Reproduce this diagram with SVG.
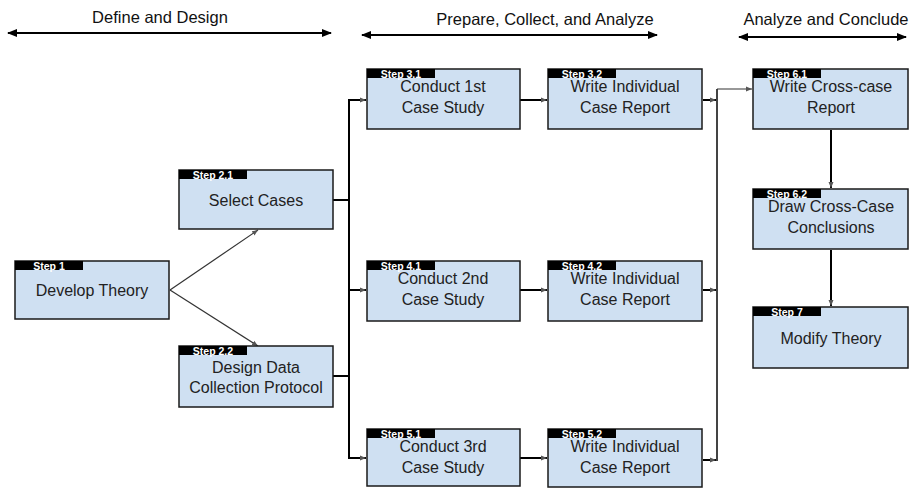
<svg xmlns="http://www.w3.org/2000/svg" width="911" height="489" viewBox="0 0 911 489">
  <style>
    .box { fill: #cfe0f2; stroke: #1a1a1a; stroke-width: 1.5; }
    .tab { fill: #000; }
    .tabtxt { font-family: "Liberation Sans", Arial, sans-serif; font-size: 10.5px; font-weight: bold; fill: #fff; text-anchor: middle; }
    .lbl { font-family: "Liberation Sans", Arial, sans-serif; font-size: 16px; fill: #222; text-anchor: middle; }
    .head { font-family: "Liberation Sans", Arial, sans-serif; font-size: 16.5px; fill: #111; text-anchor: middle; }
    .phase { stroke: #000; stroke-width: 2; fill: none; marker-start: url(#big); marker-end: url(#big); }
    .wire { stroke: #000; stroke-width: 2; fill: none; }
    .thin { stroke: #333; stroke-width: 1.2; fill: none; }
    .arr { marker-end: url(#small); }
  </style>
  <defs>
    <marker id="big" viewBox="0 0 10 8" refX="9" refY="4" markerWidth="10" markerHeight="8" markerUnits="userSpaceOnUse" orient="auto-start-reverse">
      <path d="M0,0 L10,4 L0,8 Z" fill="#000"/>
    </marker>
    <marker id="small" viewBox="0 0 6 6" refX="6" refY="3" markerWidth="6" markerHeight="6" markerUnits="userSpaceOnUse" orient="auto">
      <path d="M0,0.5 L6,3 L0,5.5 Z" fill="#555"/>
    </marker>
  </defs>

  <!-- phase headings -->
  <g id="phases">
    <text class="head" x="160" y="23">Define and Design</text>
    <line class="phase" x1="8" y1="33" x2="331" y2="33"/>
    <text class="head" x="545" y="25">Prepare, Collect, and Analyze</text>
    <line class="phase" x1="362" y1="35" x2="657" y2="35"/>
    <text class="head" x="826" y="25">Analyze and Conclude</text>
    <line class="phase" x1="739" y1="37" x2="906" y2="37"/>
  </g>

  <!-- connectors -->
  <g id="connectors">
    <line class="thin arr" x1="170" y1="290" x2="258" y2="230"/>
    <line class="thin arr" x1="170" y1="290" x2="258" y2="346"/>
    <!-- left bus -->
    <polyline class="wire" points="333,200 349,200"/>
    <polyline class="wire" points="333,376 349,376"/>
    <line class="wire" x1="349" y1="100" x2="349" y2="459"/>
    <line class="wire arr" x1="348" y1="100" x2="366" y2="100"/>
    <line class="wire arr" x1="349" y1="290" x2="366" y2="290"/>
    <line class="wire arr" x1="348" y1="458" x2="366" y2="458"/>
    <!-- row links -->
    <line class="wire arr" x1="520" y1="100" x2="547" y2="100"/>
    <line class="wire arr" x1="520" y1="290" x2="547" y2="290"/>
    <line class="wire arr" x1="520" y1="458" x2="547" y2="458"/>
    <!-- right bus -->
    <line class="wire arr" x1="703" y1="100" x2="716" y2="100"/>
    <line class="wire arr" x1="703" y1="290" x2="716" y2="290"/>
    <line class="wire arr" x1="703" y1="460" x2="716" y2="460"/>
    <line x1="717" y1="89" x2="717" y2="461" stroke="#444" stroke-width="2"/>
    <line class="thin arr" x1="717" y1="89" x2="752" y2="89"/>
    <line class="wire arr" x1="831" y1="130" x2="831" y2="188"/>
    <line class="wire arr" x1="831" y1="250" x2="831" y2="306"/>
  </g>

  <g id="step1">
    <rect class="box" x="15" y="261" width="154" height="58"/>
    <rect class="tab" x="15" y="261" width="68" height="9"/>
    <text class="tabtxt" x="49" y="269.5">Step 1</text>
    <text class="lbl" x="92" y="296">Develop Theory</text>
  </g>

  <g id="step2-1">
    <rect class="box" x="179" y="170" width="154" height="59"/>
    <rect class="tab" x="179" y="170" width="68" height="9"/>
    <text class="tabtxt" x="213" y="178.5">Step 2.1</text>
    <text class="lbl" x="256" y="206">Select Cases</text>
  </g>

  <g id="step2-2">
    <rect class="box" x="179" y="346" width="154" height="61"/>
    <rect class="tab" x="179" y="346" width="68" height="9"/>
    <text class="tabtxt" x="213" y="354.5">Step 2.2</text>
    <text class="lbl" x="256" y="373">Design Data</text>
    <text class="lbl" x="256" y="393">Collection Protocol</text>
  </g>

  <g id="step3-1">
    <rect class="box" x="367" y="69" width="153" height="60"/>
    <rect class="tab" x="367" y="69" width="68" height="9"/>
    <text class="tabtxt" x="401" y="77.5">Step 3.1</text>
    <text class="lbl" x="443" y="92">Conduct 1st</text>
    <text class="lbl" x="443" y="113">Case Study</text>
  </g>

  <g id="step3-2">
    <rect class="box" x="548" y="69" width="154" height="60"/>
    <rect class="tab" x="548" y="69" width="68" height="9"/>
    <text class="tabtxt" x="582" y="77.5">Step 3.2</text>
    <text class="lbl" x="625" y="92">Write Individual</text>
    <text class="lbl" x="625" y="113">Case Report</text>
  </g>

  <g id="step4-1">
    <rect class="box" x="367" y="261" width="153" height="60"/>
    <rect class="tab" x="367" y="261" width="68" height="9"/>
    <text class="tabtxt" x="401" y="269.5">Step 4.1</text>
    <text class="lbl" x="443" y="284">Conduct 2nd</text>
    <text class="lbl" x="443" y="305">Case Study</text>
  </g>

  <g id="step4-2">
    <rect class="box" x="548" y="261" width="154" height="60"/>
    <rect class="tab" x="548" y="261" width="68" height="9"/>
    <text class="tabtxt" x="582" y="269.5">Step 4.2</text>
    <text class="lbl" x="625" y="284">Write Individual</text>
    <text class="lbl" x="625" y="305">Case Report</text>
  </g>

  <g id="step5-1">
    <rect class="box" x="367" y="429" width="153" height="57"/>
    <rect class="tab" x="367" y="429" width="68" height="9"/>
    <text class="tabtxt" x="401" y="437.5">Step 5.1</text>
    <text class="lbl" x="443" y="452">Conduct 3rd</text>
    <text class="lbl" x="443" y="473">Case Study</text>
  </g>

  <g id="step5-2">
    <rect class="box" x="548" y="429" width="154" height="58"/>
    <rect class="tab" x="548" y="429" width="68" height="9"/>
    <text class="tabtxt" x="582" y="437.5">Step 5.2</text>
    <text class="lbl" x="625" y="452">Write Individual</text>
    <text class="lbl" x="625" y="473">Case Report</text>
  </g>

  <g id="step6-1">
    <rect class="box" x="753" y="69" width="155" height="60"/>
    <rect class="tab" x="753" y="69" width="68" height="9"/>
    <text class="tabtxt" x="787" y="77.5">Step 6.1</text>
    <text class="lbl" x="831" y="92">Write Cross-case</text>
    <text class="lbl" x="831" y="113">Report</text>
  </g>

  <g id="step6-2">
    <rect class="box" x="753" y="189" width="155" height="60"/>
    <rect class="tab" x="753" y="189" width="68" height="9"/>
    <text class="tabtxt" x="787" y="197.5">Step 6.2</text>
    <text class="lbl" x="831" y="212">Draw Cross-Case</text>
    <text class="lbl" x="831" y="233">Conclusions</text>
  </g>

  <g id="step7">
    <rect class="box" x="753" y="307" width="155" height="61"/>
    <rect class="tab" x="753" y="307" width="68" height="9"/>
    <text class="tabtxt" x="787" y="315.5">Step 7</text>
    <text class="lbl" x="831" y="344">Modify Theory</text>
  </g>
</svg>
